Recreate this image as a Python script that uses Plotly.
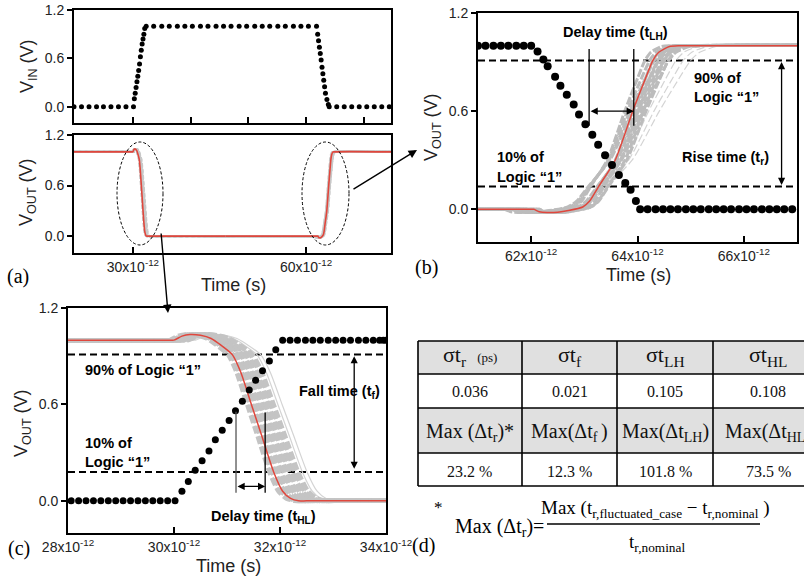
import plotly.graph_objects as go

W, H = 804, 576
SANS = "Liberation Sans, Arial, sans-serif"
SERIF = "Liberation Serif, Times New Roman, serif"
RED = "#e0463c"

# ---------------- data (times in ps, voltages in V) ----------------
# Panel (a) input pulse
VIN_A_T = [19.8, 21.1, 22.4, 23.7, 24.9, 26.2, 27.5, 28.8, 30.1,
           30.25, 30.4, 30.55, 30.7, 30.85, 31.0, 31.15, 31.3, 31.45, 31.6, 31.75, 31.9, 32.05, 32.3,
           33.6, 35.0, 36.3, 37.7, 39.0, 40.3, 41.7, 43.0, 44.4, 45.7, 47.0, 48.4, 49.7, 51.1,
           52.4, 53.7, 55.1, 56.4, 57.8, 59.1, 60.4, 61.8,
           62.0, 62.15, 62.3, 62.45, 62.6, 62.75, 62.9, 63.05, 63.2, 63.35, 63.6, 63.85,
           64.0, 65.3, 66.6, 67.9, 69.2, 70.5, 71.8, 73.1, 74.4]
VIN_A_V = [0, 0, 0, 0, 0, 0, 0, 0, 0,
           0.10, 0.17, 0.24, 0.31, 0.38, 0.45, 0.53, 0.62, 0.70, 0.78, 0.84, 0.90, 0.97, 1.0,
           1.0, 1.0, 1.0, 1.0, 1.0, 1.0, 1.0, 1.0, 1.0, 1.0, 1.0, 1.0, 1.0, 1.0,
           1.0, 1.0, 1.0, 1.0, 1.0, 1.0, 1.0, 1.0,
           0.90, 0.82, 0.74, 0.66, 0.58, 0.49, 0.41, 0.33, 0.25, 0.17, 0.09, 0.03,
           0, 0, 0, 0, 0, 0, 0, 0, 0]

# Panel (b) input falling edge
VIN_B_T = [61.0, 61.14, 61.29, 61.43, 61.57, 61.72, 61.86, 62.0,
           62.12, 62.23, 62.31, 62.45, 62.55, 62.67, 62.80, 62.90, 63.02, 63.15, 63.26,
           63.39, 63.52, 63.65, 63.77, 63.87, 63.97,
           64.05, 64.19, 64.34, 64.48, 64.62, 64.76, 64.91, 65.05, 65.19, 65.34, 65.48,
           65.62, 65.76, 65.91, 66.05, 66.19, 66.34, 66.48, 66.62, 66.76, 66.91]
VIN_B_V = [1.0, 1.0, 1.0, 1.0, 1.0, 1.0, 1.0, 1.0,
           0.965, 0.915, 0.875, 0.81, 0.755, 0.70, 0.64, 0.58, 0.52, 0.455, 0.395,
           0.33, 0.27, 0.21, 0.16, 0.12, 0.05,
           0, 0, 0, 0, 0, 0, 0, 0, 0, 0, 0,
           0, 0, 0, 0, 0, 0, 0, 0, 0, 0]

# Panel (c) input rising edge
VIN_C_T = [28.06, 28.20, 28.34, 28.48, 28.62, 28.76, 28.90, 29.04, 29.18, 29.32, 29.46, 29.60,
           29.74, 29.88, 30.02,
           30.15, 30.27, 30.40, 30.53, 30.66, 30.78, 30.91, 31.04, 31.16, 31.29, 31.42, 31.54,
           31.67, 31.80, 31.92, 32.05,
           32.19, 32.33, 32.48, 32.62, 32.76, 32.91, 33.05, 33.19, 33.33, 33.48, 33.62, 33.76,
           33.88, 33.95, 34.0]
VIN_C_V = [0, 0, 0, 0, 0, 0, 0, 0, 0, 0, 0, 0, 0, 0, 0,
           0.06, 0.12, 0.19, 0.25, 0.31, 0.38, 0.44, 0.50, 0.56, 0.62, 0.69, 0.75,
           0.81, 0.87, 0.94, 1.0,
           1.0, 1.0, 1.0, 1.0, 1.0, 1.0, 1.0, 1.0, 1.0, 1.0, 1.0, 1.0, 1.0, 1.0, 1.0]

# Nominal output (red): falling transition and rising transition
T_FALL = [19.8, 29.9, 30.0, 30.15, 30.3, 30.5, 30.7, 30.88, 31.1, 31.26, 31.46, 31.66, 31.88,
          32.05, 32.2, 32.35, 32.5, 46.0]
V_FALL = [1.0, 1.0, 1.0, 1.025, 1.035, 1.03, 1.01, 0.97, 0.91, 0.8, 0.6, 0.4, 0.18,
          0.06, 0.015, 0.0, 0.0, 0.0]
T_RISE = [46.0, 61.9, 62.05, 62.15, 62.3, 62.5, 62.7, 62.97, 63.1, 63.27, 63.58, 63.91, 64.15,
          64.29, 64.4, 64.6, 64.8, 74.7]
V_RISE = [0.0, 0.0, 0.0, -0.015, -0.02, -0.018, -0.008, 0.014, 0.05, 0.14, 0.3, 0.6, 0.8,
          0.91, 0.96, 0.995, 1.0, 1.0]

# Monte-Carlo (gray) cases: time shift at the 60 % crossing and slope stretch
FALL_CENTER = 31.46
GRAY_FALL_SHIFT = [-0.08, -0.03, 0.02, 0.07, 0.12, 0.17, 0.22, 0.27, 0.32, 0.37, 0.42]
GRAY_FALL_STRETCH = [1.0, 1.0, 1.02, 1.02, 1.04, 1.04, 1.06, 1.06, 1.08, 1.08, 1.1]
FAINT_FALL_SHIFT = [0.5, 0.58]
FAINT_FALL_STRETCH = [1.1, 1.12]
RISE_CENTER = 63.91
GRAY_RISE_SHIFT = [-0.15, -0.1, -0.05, 0.0, 0.0, 0.05, 0.1, 0.1, 0.15, 0.2, 0.2, 0.25]
GRAY_RISE_STRETCH = [1.0, 1.1, 1.2, 1.3, 1.0, 1.1, 1.2, 1.0, 1.15, 1.05, 1.25, 1.1]
FAINT_RISE_SHIFT = [0.3, 0.4, 0.5]
FAINT_RISE_STRETCH = [1.35, 1.45, 1.55]

# Levels
LEVEL_B = [0.91, 0.14]
LEVEL_C = [0.91, 0.18]

# Table
TABLE_HEAD1 = ["σt<sub>r</sub>  <span style='font-size:13px'>(ps)</span>", "σt<sub>f</sub>",
               "σt<sub>LH</sub>", "σt<sub>HL</sub>"]
TABLE_ROW1 = ["0.036", "0.021", "0.105", "0.108"]
TABLE_HEAD2 = ["Max (Δt<sub>r</sub>)*", "Max(Δt<sub>f </sub>)", "Max(Δt<sub>LH</sub>)",
               "Max(Δt<sub>HL</sub>)"]
TABLE_ROW2 = ["23.2 %", "12.3 %", "101.8 %", "73.5 %"]


def px(x):
    return x / W


def py(y):
    return 1 - y / H


def warp(ts, c, shift, stretch):
    return [c + (t - c) * stretch + shift for t in ts]


fig = go.Figure()


def xax(dom, rng, tv, tt, anchor, labels=True):
    return dict(domain=dom, range=rng, anchor=anchor, showline=True, mirror=True,
                linecolor="black", linewidth=2, showgrid=False, zeroline=False,
                ticks="inside", ticklen=6, tickwidth=1.5, tickcolor="black",
                tickvals=tv, ticktext=tt, showticklabels=labels, automargin=False,
                tickfont=dict(family=SANS, size=14, color="#222"))


def yax(dom, anchor):
    return dict(domain=dom, range=[-0.2, 1.2], anchor=anchor, showline=True, mirror=True,
                linecolor="black", linewidth=2, showgrid=False, zeroline=False,
                ticks="outside", ticklen=5, tickwidth=1.5, tickcolor="black",
                tickvals=[0.0, 0.6, 1.2], ticktext=["0.0", "0.6", "1.2"], automargin=False,
                tickfont=dict(family=SANS, size=14, color="#222"))


def tl(v):
    return f"{v}x10<sup>-12</sup>"


fig.update_layout(
    xaxis=xax([px(74), px(391)], [19.8, 74.7], [30, 40, 50, 60, 70], [""] * 5, "y", False),
    yaxis=yax([py(123), py(10)], "x"),
    xaxis2=xax([px(74), px(391)], [19.8, 74.7], [30, 60], [tl(30), tl(60)], "y2"),
    yaxis2=yax([py(253), py(135)], "x2"),
    xaxis3=xax([px(478), px(797)], [61, 67], [62, 64, 66], [tl(62), tl(64), tl(66)], "y3"),
    yaxis3=yax([py(242), py(13)], "x3"),
    xaxis4=xax([px(68), px(386)], [28, 34], [28, 30, 32, 34],
               [tl(28), tl(30), tl(32), tl(34)], "y4"),
    yaxis4=yax([py(533), py(308)], "x4"),
)


def line_trace(x, y, xa, ya, color, width, dash="solid"):
    return go.Scatter(x=x, y=y, xaxis=xa, yaxis=ya, mode="lines",
                      line=dict(color=color, width=width, dash=dash, shape="spline", smoothing=0.6),
                      hoverinfo="skip", showlegend=False)


def dots(x, y, xa, ya, size):
    return go.Scatter(x=x, y=y, xaxis=xa, yaxis=ya, mode="markers",
                      marker=dict(color="black", size=size), hoverinfo="skip", showlegend=False)


# ---------------- panel (a) ----------------
fig.add_trace(dots(VIN_A_T, VIN_A_V, "x", "y", 5))
for s, k in zip(GRAY_FALL_SHIFT, GRAY_FALL_STRETCH):
    fig.add_trace(line_trace(warp(T_FALL, FALL_CENTER, s, k), V_FALL, "x2", "y2", "#c8c8c8", 2, "4px,2px"))
for s, k in zip(GRAY_RISE_SHIFT, GRAY_RISE_STRETCH):
    fig.add_trace(line_trace(warp(T_RISE, RISE_CENTER, s, k), V_RISE, "x2", "y2", "#c8c8c8", 2, "4px,2px"))
fig.add_trace(line_trace(T_FALL, V_FALL, "x2", "y2", RED, 1.6))
fig.add_trace(line_trace(T_RISE, V_RISE, "x2", "y2", RED, 1.6))

# ---------------- panel (b) ----------------
for s, k in zip(FAINT_RISE_SHIFT, FAINT_RISE_STRETCH):
    fig.add_trace(line_trace(warp(T_RISE, RISE_CENTER, s, k), V_RISE, "x3", "y3", "#d4d4d4", 1.2, "8px,3px"))
for s, k in zip(GRAY_RISE_SHIFT, GRAY_RISE_STRETCH):
    fig.add_trace(line_trace(warp(T_RISE, RISE_CENTER, s, k), V_RISE, "x3", "y3", "#bcbcbc", 3, "8px,2px"))
fig.add_trace(line_trace(T_RISE, V_RISE, "x3", "y3", RED, 1.5))
fig.add_trace(dots(VIN_B_T, VIN_B_V, "x3", "y3", 8))

# ---------------- panel (c) ----------------
for s, k in zip(FAINT_FALL_SHIFT, FAINT_FALL_STRETCH):
    fig.add_trace(line_trace(warp(T_FALL, FALL_CENTER, s, k), V_FALL, "x4", "y4", "#d4d4d4", 1.2))
for s, k in zip(GRAY_FALL_SHIFT, GRAY_FALL_STRETCH):
    fig.add_trace(line_trace(warp(T_FALL, FALL_CENTER, s, k), V_FALL, "x4", "y4", "#c4c4c4", 4.5, "8px,3px"))
fig.add_trace(line_trace(T_FALL, V_FALL, "x4", "y4", RED, 1.5))
fig.add_trace(dots(VIN_C_T, VIN_C_V, "x4", "y4", 7))

shapes = []
ann = []

for lv in LEVEL_B:
    shapes.append(dict(type="line", xref="x3", yref="y3", x0=61, x1=67, y0=lv, y1=lv,
                       line=dict(color="black", width=2, dash="7px,4px"), layer="below"))
for lv in LEVEL_C:
    shapes.append(dict(type="line", xref="x4", yref="y4", x0=28, x1=34, y0=lv, y1=lv,
                       line=dict(color="black", width=2, dash="7px,4px"), layer="below"))

for t in [63.09, 63.93]:
    shapes.append(dict(type="line", xref="x3", yref="y3", x0=t, x1=t, y0=0.51, y1=0.98,
                       line=dict(color="black", width=1.3)))
shapes.append(dict(type="line", xref="x4", yref="y4", x0=31.17, x1=31.17, y0=0.05, y1=0.555,
                   line=dict(color="#555", width=1.3)))
shapes.append(dict(type="line", xref="x4", yref="y4", x0=31.72, x1=31.72, y0=0.05, y1=0.55,
                   line=dict(color="black", width=1.3)))


def dbl_arrow(xa, ya, x0, y0, x1, y1):
    return dict(x=x1, y=y1, ax=x0, ay=y0, xref=xa, yref=ya, axref=xa, ayref=ya, text="",
                showarrow=True, arrowhead=2, arrowsize=1.1, arrowwidth=1.3, arrowcolor="black",
                arrowside="end+start", startarrowhead=2, startarrowsize=1.1)


ann.append(dbl_arrow("x3", "y3", 63.09, 0.6, 63.93, 0.6))
ann.append(dbl_arrow("x3", "y3", 66.71, 0.14, 66.71, 0.90))
ann.append(dbl_arrow("x4", "y4", 31.17, 0.09, 31.72, 0.09))
ann.append(dbl_arrow("x4", "y4", 33.4, 0.19, 33.4, 0.90))

for x0, x1 in [(117, 163), (302, 349)]:
    shapes.append(dict(type="circle", xref="paper", yref="paper", x0=px(x0), x1=px(x1),
                       y0=py(245), y1=py(142), line=dict(color="black", width=1, dash="3px,2px")))
ann.append(dict(x=px(417), y=py(150), xref="paper", yref="paper", ax=-65, ay=40, text="",
                showarrow=True, arrowhead=2, arrowsize=1.2, arrowwidth=1.4, arrowcolor="black"))
ann.append(dict(x=px(168), y=py(313), xref="paper", yref="paper", ax=-7, ay=-81, text="",
                showarrow=True, arrowhead=2, arrowsize=1.2, arrowwidth=1.4, arrowcolor="black"))


def txt(x, y, s, size=14, family=SANS, bold=False, xanchor="center", color="black", angle=0):
    if bold:
        s = f"<b>{s}</b>"
    return dict(x=px(x), y=py(y), xref="paper", yref="paper", text=s, showarrow=False,
                xanchor=xanchor, yanchor="middle", textangle=angle,
                font=dict(family=family, size=size, color=color))


ann.append(txt(28, 66, "V<sub>IN</sub> (V)", 18, angle=-90, color="#222"))
ann.append(txt(28, 192, "V<sub>OUT</sub> (V)", 18, angle=-90, color="#222"))
ann.append(txt(432, 127, "V<sub>OUT</sub> (V)", 18, angle=-90, color="#222"))
ann.append(txt(22, 423, "V<sub>OUT</sub> (V)", 18, angle=-90, color="#222"))
ann.append(txt(233, 285, "Time (s)", 18, color="#222"))
ann.append(txt(638, 275, "Time (s)", 18, color="#222"))
ann.append(txt(228, 566, "Time (s)", 18, color="#222"))

ann.append(txt(5, 276, "(a)", 20, SERIF, xanchor="left"))
ann.append(txt(413, 267, "(b)", 20, SERIF, xanchor="left"))
ann.append(txt(6, 548, "(c)", 20, SERIF, xanchor="left"))
ann.append(txt(410, 545, "(d)", 20, SERIF, xanchor="left"))

ann.append(txt(615, 33, "Delay time (t<sub>LH</sub>)", 14.5, bold=True))
ann.append(txt(692, 78, "90% of", 14.5, bold=True, xanchor="left"))
ann.append(txt(692, 97, "Logic “1”", 14.5, bold=True, xanchor="left"))
ann.append(txt(725, 158, "Rise time (t<sub>r</sub>)", 14.5, bold=True))
ann.append(txt(495, 157, "10% of", 14.5, bold=True, xanchor="left"))
ann.append(txt(495, 177, "Logic “1”", 14.5, bold=True, xanchor="left"))

ann.append(txt(83, 370, "90% of Logic “1”", 14.5, bold=True, xanchor="left"))
ann.append(txt(83, 443, "10% of", 14.5, bold=True, xanchor="left"))
ann.append(txt(83, 462, "Logic “1”", 14.5, bold=True, xanchor="left"))
ann.append(txt(339, 392, "Fall time (t<sub>f</sub>)", 14.5, bold=True))
ann.append(txt(263, 517, "Delay time (t<sub>HL</sub>)", 14.5, bold=True))

COL_X = [418, 522, 617, 713, 822]
ROW_Y = [341, 374, 408, 453, 486]
for r in (0, 2):
    shapes.append(dict(type="rect", xref="paper", yref="paper", x0=px(COL_X[0]), x1=px(COL_X[-1]),
                       y0=py(ROW_Y[r + 1]), y1=py(ROW_Y[r]), fillcolor="#e0e0e0",
                       line=dict(width=0), layer="below"))
for yv in ROW_Y:
    shapes.append(dict(type="line", xref="paper", yref="paper", x0=px(COL_X[0]), x1=px(COL_X[-1]),
                       y0=py(yv), y1=py(yv), line=dict(color="black", width=1.6)))
for xv in COL_X[:-1]:
    shapes.append(dict(type="line", xref="paper", yref="paper", x0=px(xv), x1=px(xv),
                       y0=py(ROW_Y[-1]), y1=py(ROW_Y[0]), line=dict(color="black", width=1.6)))

centers = [(COL_X[0] + COL_X[1]) / 2, (COL_X[1] + COL_X[2]) / 2, (COL_X[2] + COL_X[3]) / 2, 768]
for i in range(4):
    ann.append(txt(centers[i], 356, TABLE_HEAD1[i], 22, SERIF, color="#111"))
    ann.append(txt(centers[i], 391, TABLE_ROW1[i], 16, SERIF, color="#111"))
    ann.append(txt(centers[i], 432, TABLE_HEAD2[i], 20, SERIF, color="#111"))
    ann.append(txt(centers[i], 471, TABLE_ROW2[i], 16, SERIF, color="#111"))

ann.append(txt(438, 507, "*", 17, SERIF))
ann.append(txt(453, 527, "Max (Δt<sub>r</sub>)=", 20, SERIF, xanchor="left"))
ann.append(txt(655, 509, "Max (t<sub>r,fluctuated_case</sub> − t<sub>r,nominal</sub> )", 19, SERIF))
shapes.append(dict(type="line", xref="paper", yref="paper", x0=px(547), x1=px(760),
                   y0=py(524), y1=py(524), line=dict(color="black", width=1.3)))
ann.append(txt(657, 543, "t<sub>r,nominal</sub>", 19, SERIF))

fig.update_layout(
    width=W, height=H, autosize=False,
    margin=dict(l=0, r=0, t=0, b=0, pad=0),
    paper_bgcolor="white", plot_bgcolor="white",
    showlegend=False, shapes=shapes, annotations=ann,
)

fig.write_html("out.html")
